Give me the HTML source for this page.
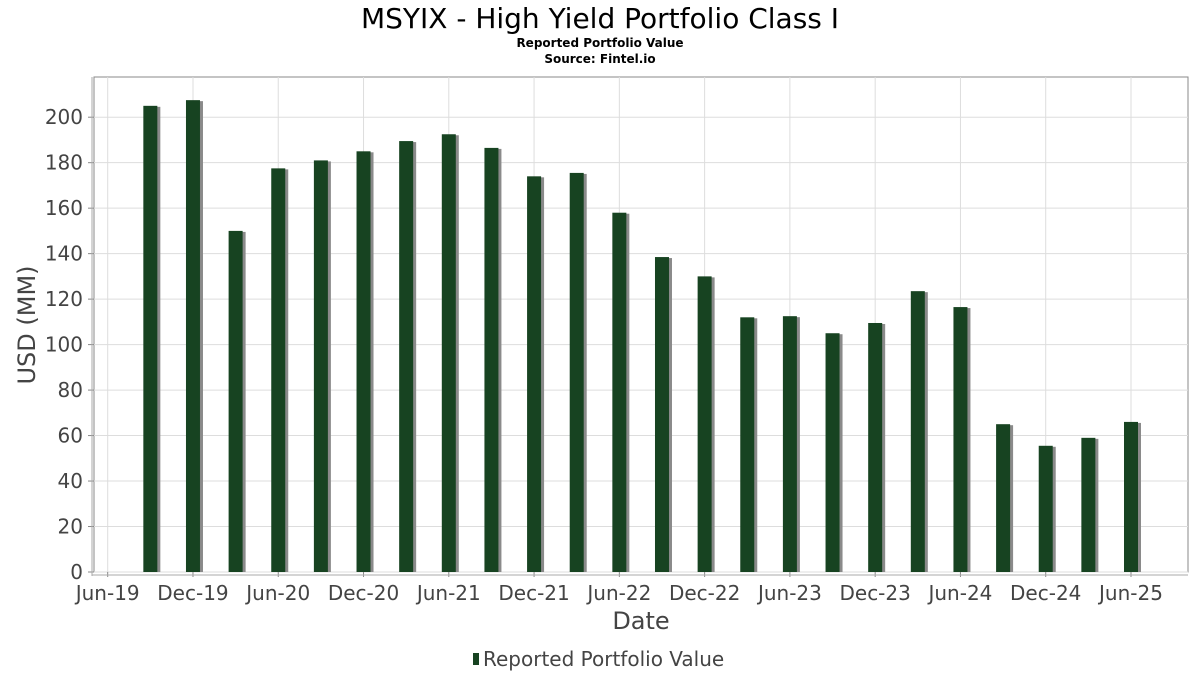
<!DOCTYPE html>
<html><head><meta charset="utf-8"><style>
body{margin:0;background:#fff;font-family:"DejaVu Sans","Liberation Sans",sans-serif;}
</style></head><body>
<svg id="c" width="1200" height="675" xmlns="http://www.w3.org/2000/svg">
<text x="600" y="28" text-anchor="middle" font-size="28" fill="#000">MSYIX - High Yield Portfolio Class I</text>
<text x="600" y="47" text-anchor="middle" font-size="12" font-weight="bold" fill="#000">Reported Portfolio Value</text>
<text x="600" y="63" text-anchor="middle" font-size="12" font-weight="bold" fill="#000">Source: Fintel.io</text>
<rect x="94" y="77" width="1094" height="495" fill="#fff" stroke="#888" stroke-width="1"/>
<g id="grid"></g><g id="bars"></g><g id="axes"></g>
<text x="35" y="325" text-anchor="middle" font-size="24" fill="#444" transform="rotate(-90 35 325)">USD (MM)</text>
<text x="641" y="629" text-anchor="middle" font-size="24" fill="#444">Date</text>
<g>
<rect x="473" y="653" width="6" height="12" fill="#174321"/>
<text x="483" y="666" font-size="20" fill="#444">Reported Portfolio Value</text>
</g>
</svg>
<script>
const months = [3,6,9,12,15,18,21,24,27,30,33,36,39,42,45,48,51,54,57,60,63,66,69,72];
const values = [205,207.5,150,177.5,181,185,189.5,192.5,186.5,174,175.5,158,138.5,130,112,112.5,105,109.5,123.5,116.5,65,55.5,59,66];
const yTicks = [0,20,40,60,80,100,120,140,160,180,200];
const xTickMonths = [0,6,12,18,24,30,36,42,48,54,60,66,72];
const xTickLabels = ["Jun-19","Dec-19","Jun-20","Dec-20","Jun-21","Dec-21","Jun-22","Dec-22","Jun-23","Dec-23","Jun-24","Dec-24","Jun-25"];
const NS="http://www.w3.org/2000/svg";
const xs = m => 107.7 + m*(1131-107.7)/72;
const ys = v => 572 - v*2.274;
function mk(tag, attrs, parent){const e=document.createElementNS(NS,tag);for(const k in attrs)e.setAttribute(k,attrs[k]);document.getElementById(parent).appendChild(e);return e;}
yTicks.forEach(t=>{
  const g=mk('line',{x1:94,x2:1188,y1:ys(t),y2:ys(t),stroke:'#ddd','stroke-width':1},'grid');
  
  
  const tk=mk('line',{x1:88,x2:94,y1:ys(t),y2:ys(t),stroke:'#888'},'axes');
  
  
  const l=mk('text',{x:83,y:ys(t)+7,'text-anchor':'end','font-size':20,fill:'#444'},'axes');
  l.textContent=t;
  
  
});
xTickMonths.forEach((m,i)=>{
  const g=mk('line',{x1:xs(m),x2:xs(m),y1:77,y2:572,stroke:'#ddd','stroke-width':1},'grid');
  
  
  const tk=mk('line',{x1:xs(m),x2:xs(m),y1:572,y2:577,stroke:'#888'},'axes');
  
  
  const l=mk('text',{x:xs(m),y:600,'text-anchor':'middle','font-size':20,fill:'#444'},'axes');
  l.textContent=xTickLabels[i];
  
  
});
const ax=mk('line',{x1:92,x2:92,y1:77,y2:576,stroke:'#aaa'},'axes');


const bx=mk('line',{x1:92,x2:1188,y1:575,y2:575,stroke:'#aaa'},'axes');


months.forEach((m,i)=>{
  const x=xs(m), y=ys(values[i]);
  const s=mk('rect',{x:x-4,y:y+1,width:14,height:572-y-1,fill:'#8a8a8a'},'bars');
  
  
  const b=mk('rect',{x:x-7,y:y,width:14,height:572-y,fill:'#174321'},'bars');
  
  
});
</script>
</body></html>
